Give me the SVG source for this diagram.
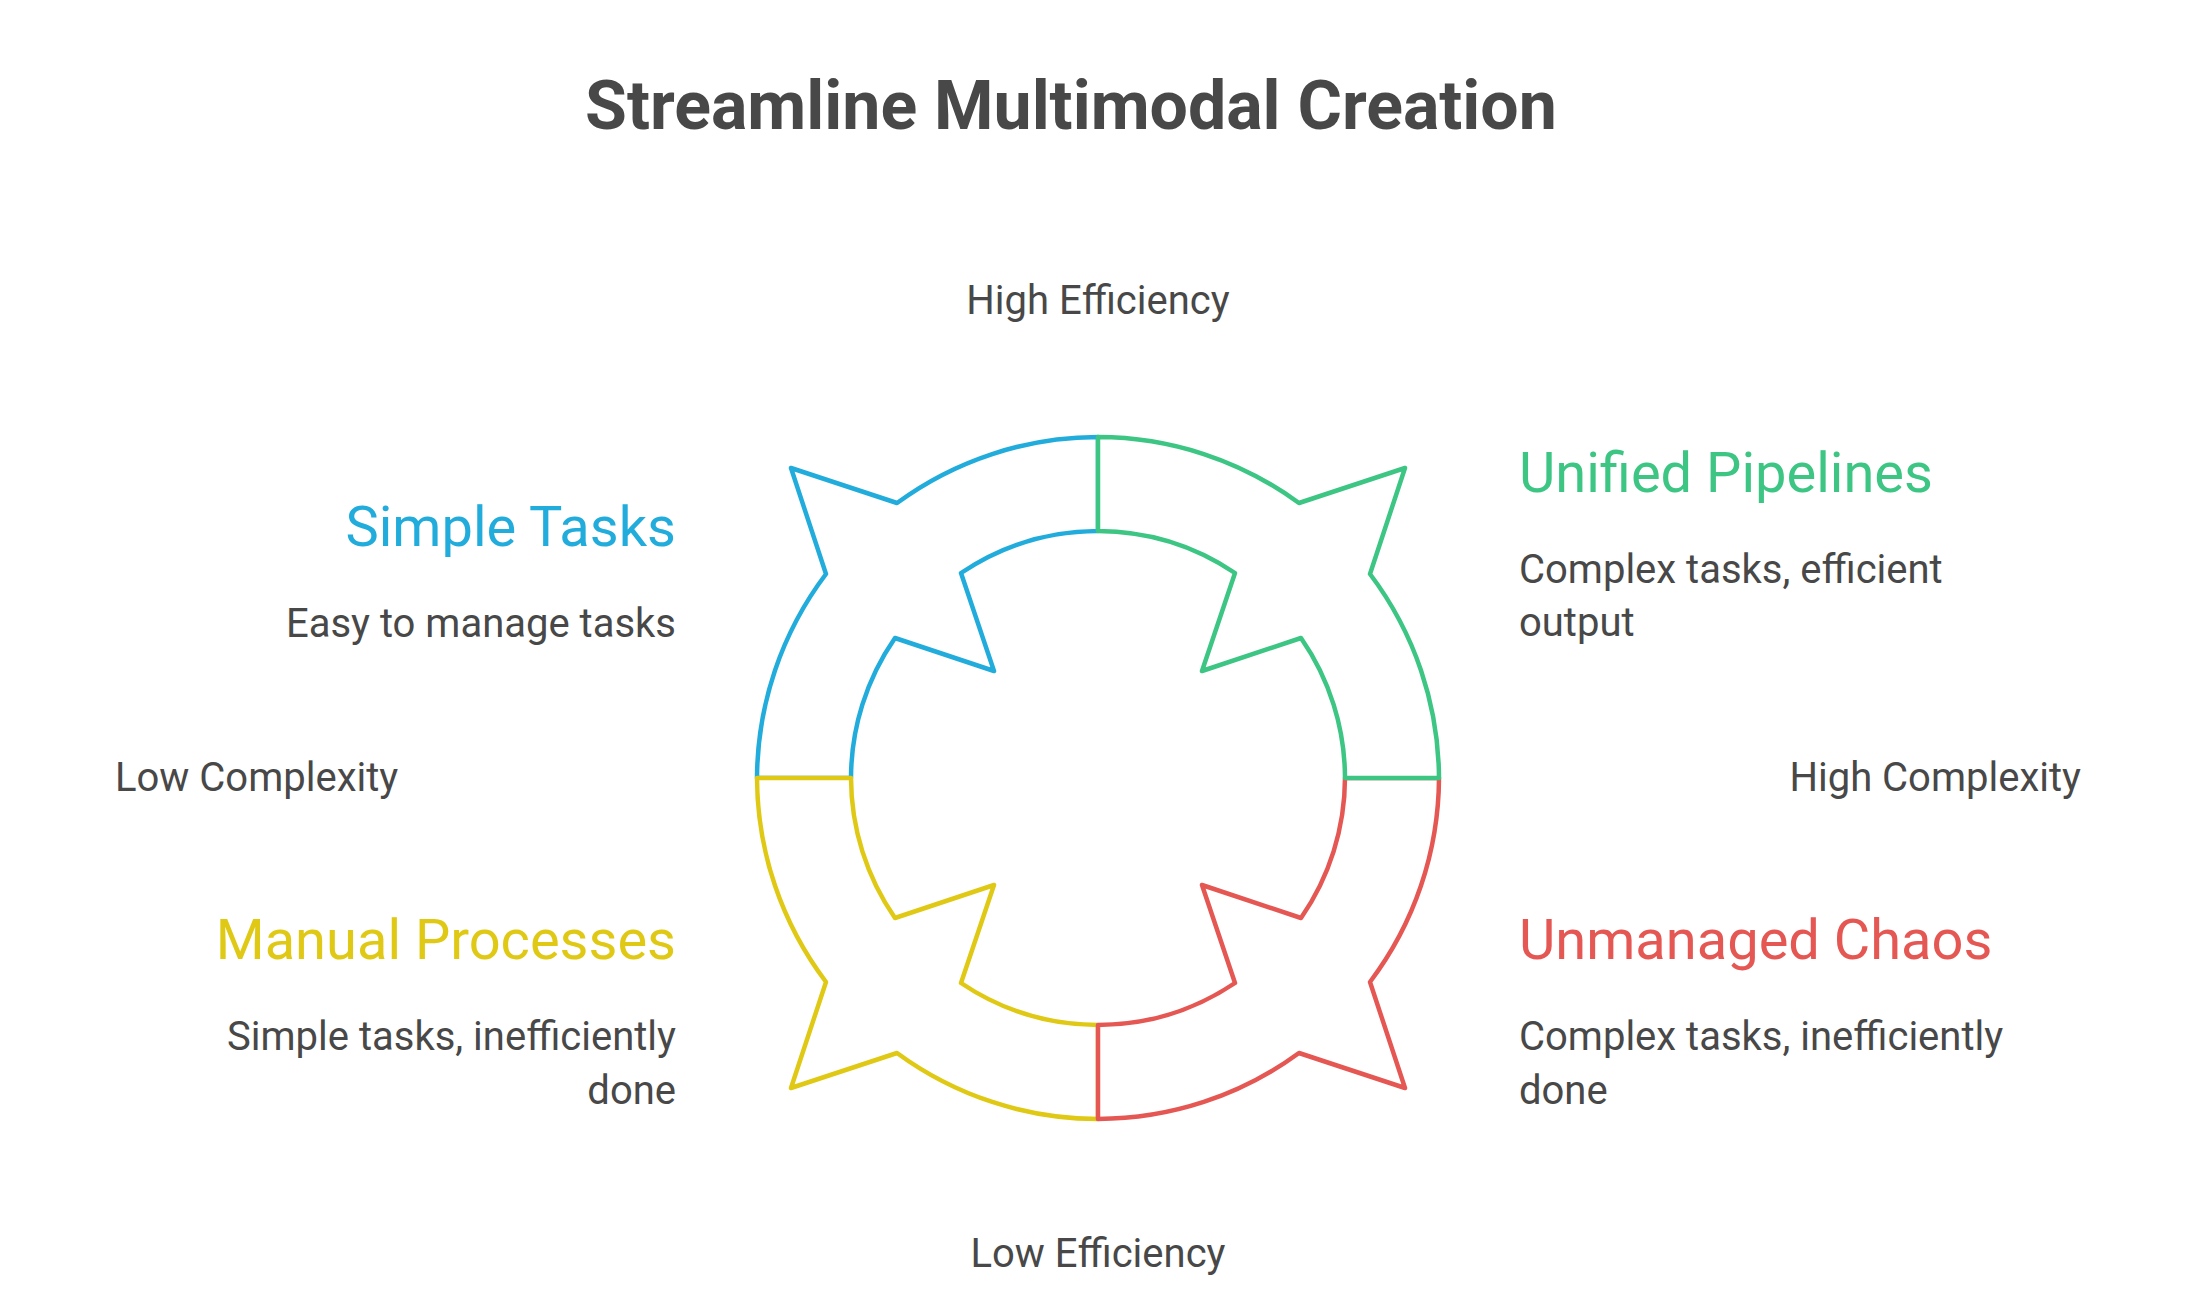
<svg xmlns="http://www.w3.org/2000/svg" width="2196" height="1314" viewBox="0 0 2196 1314">
<style>
text{font-family:Roboto,"Liberation Sans",sans-serif;fill:#484848}
.t{font-weight:700;font-size:68px}
.ax{font-size:40px}
.h{font-size:56px}
.d{font-size:40px}
.q{fill:#fff;stroke-width:4.5;stroke-linejoin:round}
</style>
<defs>
<path id="quad" d="M -341 0 A 341 341 0 0 1 -272 -204 L -307 -310 L -201 -275 A 341 341 0 0 1 0 -341 L 0 -247 A 247 247 0 0 0 -137 -205 L -104 -107 L -203 -140 A 247 247 0 0 0 -247 0 Z"/>
</defs>
<rect width="2196" height="1314" fill="#fff"/>
<text class="t" x="1071" y="129" text-anchor="middle">Streamline Multimodal Creation</text>
<g id="connectors"/>
<g id="ring" transform="translate(1098 778)">
<g id="simple-shape"><use href="#quad" class="q" stroke="#22ACDC"/></g>
<g id="manual-shape"><use href="#quad" class="q" stroke="#E0C914" transform="scale(1 -1)"/></g>
<g id="chaos-shape"><use href="#quad" class="q" stroke="#E55753" transform="scale(-1 -1)"/></g>
<g id="unified-shape"><use href="#quad" class="q" stroke="#3CC583" transform="scale(-1 1)"/></g>
</g>
<g id="axes">
<text class="ax" x="1098" y="314" text-anchor="middle">High Efficiency</text>
<text class="ax" x="1098" y="1267" text-anchor="middle">Low Efficiency</text>
<text class="ax" x="115" y="791">Low Complexity</text>
<text class="ax" x="2081" y="791" text-anchor="end">High Complexity</text>
</g>
<g id="simple" text-anchor="end">
<text class="h" x="676" y="546" style="fill:#22ACDC">Simple Tasks</text>
<text class="d" x="676" y="637">Easy to manage tasks</text>
</g>
<g id="manual" text-anchor="end">
<text class="h" x="676" y="959" style="fill:#E0C914">Manual Processes</text>
<text class="d" x="676" y="1050">Simple tasks, inefficiently</text>
<text class="d" x="676" y="1104">done</text>
</g>
<g id="unified">
<text class="h" x="1519" y="492" style="fill:#3CC583">Unified Pipelines</text>
<text class="d" x="1519" y="583">Complex tasks, efficient</text>
<text class="d" x="1519" y="636">output</text>
</g>
<g id="chaos">
<text class="h" x="1519" y="959" style="fill:#E55753">Unmanaged Chaos</text>
<text class="d" x="1519" y="1050">Complex tasks, inefficiently</text>
<text class="d" x="1519" y="1104">done</text>
</g>
</svg>
